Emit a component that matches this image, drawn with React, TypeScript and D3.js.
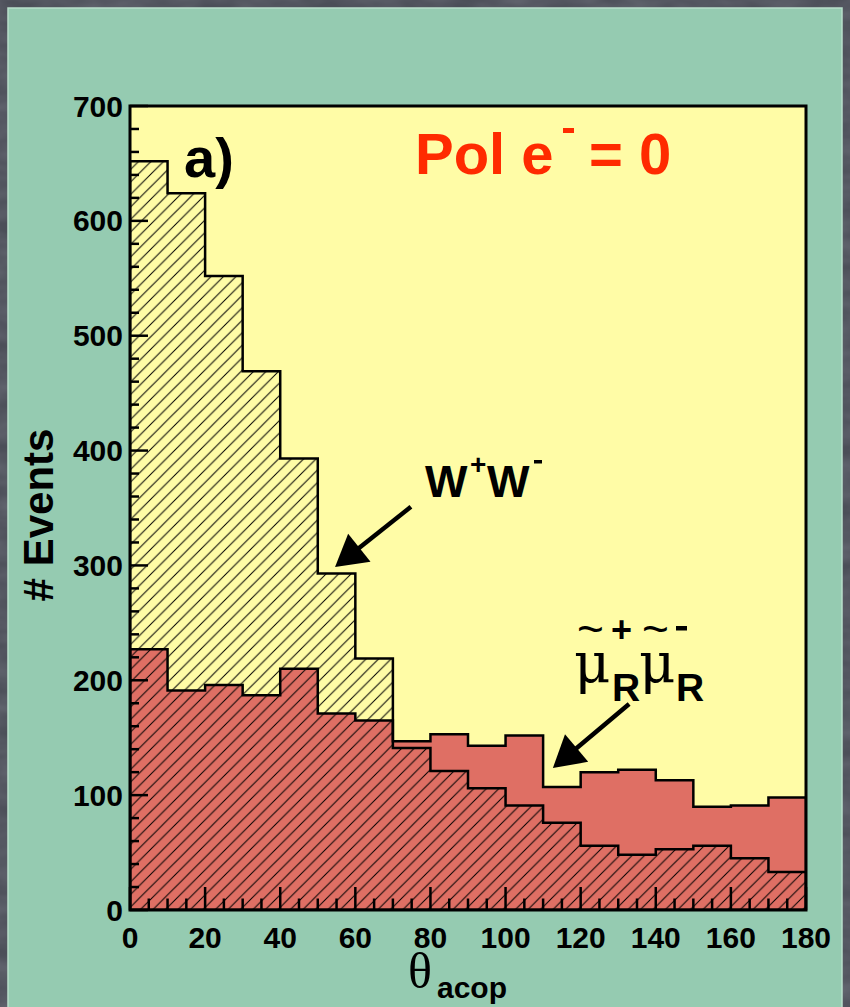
import React from "react";
import * as d3 from "d3";

// ---- data ----
const binEdges = [0, 10, 20, 30, 40, 50, 60, 70, 80, 90, 100, 110, 120, 130, 140, 150, 160, 170, 180];
const wwEvents = [652, 624, 552, 469, 393, 293, 219, 141, 121, 106, 91, 76, 56, 48, 53, 56, 45, 33];
const smuonEvents = [227, 191, 196, 187, 210, 171, 165, 147, 153, 143, 152, 107, 120, 122, 113, 90, 91, 98];
const xTickLabels = [0, 20, 40, 60, 80, 100, 120, 140, 160, 180];
const yTickLabels = [0, 100, 200, 300, 400, 500, 600, 700];

// annotation anchors (data coordinates)
const wwArrow = { from: [74.8, 351], to: [54.6, 298.6] };
const smuonArrow = { from: [132.9, 179.4], to: [112.6, 123.6] };

const W = 850;
const H = 1007;
const plot = { left: 130, right: 806, top: 106, bottom: 910 };

const COL_BG = "#4b4e58";
const COL_PANEL = "#95cbb1";
const COL_PLOT = "#fffca6";
const COL_RED = "#df6f64";
const COL_TEXTRED = "#ff2a00";
const SANS = "'Liberation Sans', Arial, Helvetica, sans-serif";
const SERIF = "'DejaVu Serif', 'Liberation Serif', serif";

function Arrow({ x1, y1, x2, y2 }: { x1: number; y1: number; x2: number; y2: number }) {
  const dx = x2 - x1;
  const dy = y2 - y1;
  const len = Math.hypot(dx, dy);
  const ux = dx / len;
  const uy = dy / len;
  const headLen = 31;
  const headHalf = 18;
  const bx = x2 - ux * headLen;
  const by = y2 - uy * headLen;
  const px = -uy;
  const py = ux;
  const pts = [
    [x2, y2],
    [bx + px * headHalf, by + py * headHalf],
    [bx - px * headHalf, by - py * headHalf],
  ];
  return (
    <g>
      <line x1={x1} y1={y1} x2={bx + ux * 4} y2={by + uy * 4} stroke="#000" strokeWidth={4.5} />
      <polygon points={pts.map((p) => p.join(",")).join(" ")} fill="#000" />
    </g>
  );
}

export default function App() {
  const x = d3.scaleLinear().domain([0, 180]).range([plot.left, plot.right]);
  const y = d3.scaleLinear().domain([0, 700]).range([plot.bottom, plot.top]);

  const toPts = (vals: number[]) =>
    binEdges.map((e, i) => ({ e, v: vals[Math.min(i, vals.length - 1)] }));

  const area = d3
    .area<{ e: number; v: number }>()
    .x((d) => x(d.e))
    .y0(y(0))
    .y1((d) => y(d.v))
    .curve(d3.curveStepAfter);

  const redPath = area(toPts(smuonEvents)) || "";
  const wwPath = area(toPts(wwEvents)) || "";

  const xMinor = d3.range(0, 181, 5);
  const yMinor = d3.range(0, 701, 20);

  const wwA1 = [x(wwArrow.from[0]), y(wwArrow.from[1])];
  const wwA2 = [x(wwArrow.to[0]), y(wwArrow.to[1])];
  const smA1 = [x(smuonArrow.from[0]), y(smuonArrow.from[1])];
  const smA2 = [x(smuonArrow.to[0]), y(smuonArrow.to[1])];

  return (
    <svg
      width={W}
      height={H}
      viewBox={`0 0 ${W} ${H}`}
      style={{ position: "absolute", left: 0, top: 0, display: "block" }}
    >
      <defs>
        <pattern id="hatch" patternUnits="userSpaceOnUse" width={12.5} height={12.5}>
          <path d="M-2,2 L2,-2 M0,12.5 L12.5,0 M10.5,14.5 L14.5,10.5" stroke="#000" strokeWidth={1} />
        </pattern>
        <filter id="marble" x="0" y="0" width="100%" height="100%">
          <feTurbulence type="fractalNoise" baseFrequency="0.02 0.05" numOctaves={3} seed={4} result="n" />
          <feColorMatrix
            in="n"
            type="matrix"
            values="0 0 0 0 0.33  0 0 0 0 0.34  0 0 0 0 0.39  0 0 0 0.9 -0.2"
          />
        </filter>
        <clipPath id="plotClip">
          <rect x={plot.left} y={plot.top} width={plot.right - plot.left} height={plot.bottom - plot.top} />
        </clipPath>
      </defs>

      {/* outer background */}
      <rect x={0} y={0} width={W} height={H} fill={COL_BG} />
      <rect x={0} y={0} width={W} height={H} filter="url(#marble)" opacity={0.5} />

      {/* panel */}
      <rect x={8} y={8} width={834} height={H} fill={COL_PANEL} stroke="#b9dfcc" strokeWidth={1.5} />

      {/* plot area */}
      <rect
        x={plot.left}
        y={plot.top}
        width={plot.right - plot.left}
        height={plot.bottom - plot.top}
        fill={COL_PLOT}
      />

      <g clipPath="url(#plotClip)">
        <path d={redPath} fill={COL_RED} />
        <path d={wwPath} fill="url(#hatch)" />
        <path d={redPath} fill="none" stroke="#000" strokeWidth={2.5} />
        <path d={wwPath} fill="none" stroke="#000" strokeWidth={2.5} />
      </g>

      {/* ticks */}
      <g stroke="#000" strokeWidth={2.5}>
        {xMinor.map((t) => (
          <line
            key={"xt" + t}
            x1={x(t)}
            x2={x(t)}
            y1={plot.bottom}
            y2={plot.bottom - (t % 20 === 0 ? 23 : 11.5)}
          />
        ))}
        {yMinor.map((t) => (
          <line
            key={"yt" + t}
            x1={plot.left}
            x2={plot.left + (t % 100 === 0 ? 18 : 9)}
            y1={y(t)}
            y2={y(t)}
          />
        ))}
      </g>

      {/* frame */}
      <rect
        x={plot.left}
        y={plot.top}
        width={plot.right - plot.left}
        height={plot.bottom - plot.top}
        fill="none"
        stroke="#000"
        strokeWidth={3}
      />

      {/* tick labels */}
      <g fontFamily={SANS} fontWeight="bold" fontSize={30} fill="#000">
        {xTickLabels.map((t) => (
          <text key={"xl" + t} x={x(t)} y={948} textAnchor="middle">
            {t}
          </text>
        ))}
        {yTickLabels.map((t) => (
          <text key={"yl" + t} x={123} y={y(t) + 10.5} textAnchor="end">
            {t}
          </text>
        ))}
      </g>

      {/* axis titles */}
      <text
        transform={`translate(53, 515) rotate(-90)`}
        textAnchor="middle"
        fontFamily={SANS}
        fontWeight="bold"
        fontSize={42}
        fill="#000"
      >
        # Events
      </text>
      <text x={408} y={988} fontFamily={"'Liberation Serif', serif"} fontSize={50} fill="#000">
        θ
      </text>
      <text x={437} y={998} fontFamily={SANS} fontWeight="bold" fontSize={30} fill="#000">
        acop
      </text>

      {/* panel label */}
      <text x={184} y={177} fontFamily={SANS} fontWeight="bold" fontSize={56} fill="#000">
        a)
      </text>

      {/* polarisation label */}
      <g fontFamily={SANS} fontWeight="bold" fill={COL_TEXTRED}>
        <text x={415} y={174} fontSize={58}>
          Pol e
        </text>
        <rect x={563} y={128} width={11} height={5} fill={COL_TEXTRED} />
        <text x={589} y={174} fontSize={58}>
          = 0
        </text>
      </g>

      {/* W+W- label */}
      <g fontFamily={SANS} fontWeight="bold" fill="#000">
        <text x={425} y={497} fontSize={45}>
          W
        </text>
        <text x={470} y={474} fontSize={28}>
          +
        </text>
        <text x={487} y={497} fontSize={45}>
          W
        </text>
        <rect x={534} y={460} width={8} height={3.5} fill="#000" />
      </g>

      {/* smuon label */}
      <g fill="#000">
        <text x={574} y={682} fontFamily={SERIF} fontSize={56}>
          μ
        </text>
        <text x={577} y={645} fontFamily={SANS} fontSize={46}>
          ~
        </text>
        <text x={611} y={642} fontFamily={SANS} fontWeight="bold" fontSize={36}>
          +
        </text>
        <text x={612} y={701} fontFamily={SANS} fontWeight="bold" fontSize={39}>
          R
        </text>
        <text x={639} y={682} fontFamily={SERIF} fontSize={56}>
          μ
        </text>
        <text x={642} y={645} fontFamily={SANS} fontSize={46}>
          ~
        </text>
        <rect x={676} y={626} width={11} height={4.5} fill="#000" />
        <text x={676} y={701} fontFamily={SANS} fontWeight="bold" fontSize={39}>
          R
        </text>
      </g>

      <Arrow x1={wwA1[0]} y1={wwA1[1]} x2={wwA2[0]} y2={wwA2[1]} />
      <Arrow x1={smA1[0]} y1={smA1[1]} x2={smA2[0]} y2={smA2[1]} />
    </svg>
  );
}
